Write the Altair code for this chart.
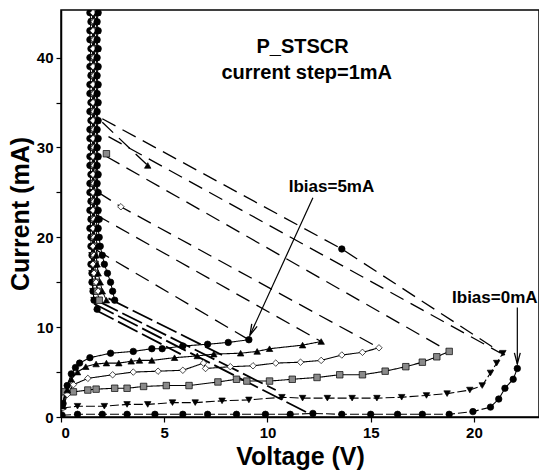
import altair as alt
import pandas as pd

FONT = "Liberation Sans"

series = ["0mA", "1mA", "2mA", "3mA", "4mA", "5mA"]

# low-current branches (Voltage V, Current mA)
v0 = [0.05, 0.8, 2.0, 3.2, 4.55, 5.9, 7.1, 8.5, 9.9, 11.1, 12.2, 13.6, 15.0, 16.3, 17.5, 18.8, 19.95, 20.8, 21.2, 21.5, 21.9, 22.1]
i0 = [0.2, 0.3, 0.3, 0.3, 0.3, 0.3, 0.3, 0.3, 0.3, 0.3, 0.4, 0.3, 0.3, 0.3, 0.3, 0.3, 0.6, 1.1, 2.0, 3.2, 4.2, 5.4]

v1 = [0.05, 0.8, 2.1, 3.2, 4.2, 5.4, 6.5, 7.8, 9.1, 10.7, 11.7, 12.9, 14.1, 15.3, 16.5, 17.7, 18.7, 19.8, 20.4, 20.8, 21.1, 21.4]
i1 = [1.0, 1.2, 1.2, 1.4, 1.4, 1.6, 1.6, 1.8, 1.9, 2.2, 2.1, 2.1, 2.1, 2.1, 2.2, 2.4, 2.6, 3.0, 3.5, 4.9, 6.0, 7.1]

v2 = [0.05, 0.2, 0.6, 1.3, 1.7, 2.6, 3.2, 4.0, 5.1, 6.2, 7.6, 8.5, 9.0, 10.1, 11.2, 12.4, 13.5, 14.6, 15.7, 16.7, 17.5, 18.2, 18.8]
i2 = [1.2, 2.8, 2.8, 3.0, 3.1, 3.2, 3.2, 3.4, 3.5, 3.5, 3.9, 4.2, 4.0, 4.0, 4.2, 4.4, 4.7, 4.7, 5.1, 5.6, 6.1, 6.7, 7.3]

v3 = [0.1, 0.3, 0.6, 1.3, 2.5, 3.5, 4.7, 5.9, 6.9, 7.0, 8.2, 9.3, 10.4, 11.6, 12.6, 13.6, 14.6, 15.4]
i3 = [1.0, 2.5, 3.6, 4.3, 4.7, 5.0, 5.1, 5.2, 6.0, 5.4, 5.6, 5.7, 6.0, 6.1, 6.3, 6.9, 7.2, 7.7]

v4 = [0.1, 0.3, 0.5, 0.8, 1.2, 1.7, 2.2, 2.8, 3.4, 3.8, 4.4, 5.5, 6.6, 7.4, 8.7, 9.5, 10.1, 11.7, 12.6]
i4 = [1.2, 3.0, 4.2, 5.0, 5.6, 5.9, 6.0, 6.0, 6.2, 6.3, 6.3, 6.6, 6.8, 7.0, 7.1, 7.3, 7.6, 8.0, 8.4]

v5 = [0.1, 0.3, 0.5, 0.7, 0.9, 1.4, 2.4, 3.5, 4.4, 4.9, 5.9, 7.1, 8.1, 9.1]
i5 = [1.5, 3.5, 4.8, 5.5, 6.0, 6.6, 7.1, 7.3, 7.6, 7.6, 7.9, 8.1, 8.3, 8.6]

# high-current (snapped-back) branch, current step = 1 mA
col_i = [12, 13, 14, 15, 16, 17, 18, 19, 20, 21,
         22, 23, 24, 25, 26, 27, 28, 29, 30, 31,
         32, 33, 34, 35, 36, 37, 38, 39, 40, 41,
         42, 43, 44, 45]
col_v0 = [1.75, 1.60, 1.55, 1.50, 1.50, 1.45, 1.50, 1.45, 1.45, 1.40,
          1.45, 1.40, 1.45, 1.40, 1.40, 1.45, 1.40, 1.40, 1.45, 1.40,
          1.40, 1.45, 1.40, 1.45, 1.40, 1.40, 1.45, 1.40, 1.40, 1.45,
          1.40, 1.40, 1.45, 1.40]
col_v1 = [None, 1.60, 1.55, 1.55, 1.50, 1.55, 1.50, 1.55, 1.50, 1.55,
          1.50, 1.55, 1.50, 1.55, 1.50, 1.55, 1.50, 1.55, 1.50, 1.55,
          1.50, 1.55, 1.50, 1.55, 1.50, 1.55, 1.50, 1.55, 1.50, 1.55,
          1.50, 1.55, 1.50, 1.55]
col_v2 = [None, 1.85, 1.75, 1.70, 1.65, 1.65, 1.60, 1.65, 1.60, 1.65,
          1.60, 1.65, 1.60, 1.65, 1.60, 1.70, 1.60, 1.65, 1.60, 1.65,
          1.60, 1.65, 1.60, 1.65, 1.60, 1.65, 1.60, 1.65, 1.60, 1.65,
          1.60, 1.65, 1.60, 1.65]
col_v3 = [None, None, 1.80, 1.70, 1.60, 1.55, 1.60, 1.55, 1.60, 1.55,
          1.60, 1.55, 1.60, 1.55, 1.60, 1.55, 1.60, 1.55, 1.60, 1.55,
          1.60, 1.55, 1.60, 1.55, 1.60, 1.55, 1.60, 1.55, 1.60, 1.55,
          1.60, 1.55, 1.60, 1.55]
col_v4 = [None, 2.20, 2.00, 1.90, 1.80, 1.75, 1.70, 1.75, 1.70, 1.75,
          1.70, 1.75, 1.70, 1.75, 1.70, 1.75, 1.70, 1.75, 1.70, 1.75,
          1.70, 1.75, 1.70, 1.75, 1.70, 1.75, 1.70, 1.75, 1.70, 1.75,
          1.70, 1.75, 1.70, 1.75]
col_v5 = [None, 2.60, 2.50, 2.40, 2.25, 2.10, 2.00, 1.90, 1.85, 1.80,
          1.85, 1.80, 1.75, 1.80, 1.75, 1.80, 1.75, 1.80, 1.75, 1.80,
          1.75, 1.80, 1.75, 1.80, 1.75, 1.80, 1.75, 1.80, 1.75, 1.80,
          1.75, 1.80, 1.75, 1.80]

# snapback transitions (dashed), each a list of (V, I)
snap_lines = [
    [(2.0, 32.8), (4.2, 28.0)],
    [(2.0, 33.2), (13.6, 18.7), (21.5, 6.9)],
    [(2.3, 31.2), (21.3, 7.1)],
    [(2.2, 29.0), (18.8, 7.3)],
    [(1.8, 25.0), (2.9, 23.4), (15.4, 7.7)],
    [(1.7, 22.5), (12.6, 8.4)],
    [(1.7, 18.6), (9.1, 8.6)],
]
thick_lines = [
    [(1.6, 12.6), (12.0, 0.4)],
    [(1.8, 12.9), (10.4, 3.0)],
    [(2.3, 13.2), (7.8, 6.9)],
    [(1.6, 12.0), (5.8, 7.0)],
]
# isolated markers lying on the transitions
extra_s = ["4mA", "5mA", "3mA", "2mA"]
extra_v = [4.2, 13.6, 2.9, 2.2]
extra_i = [28.0, 18.7, 23.4, 29.3]

# annotation arrows (V, I) start -> tip
arrow5 = [(12.2, 24.4), (9.15, 9.1)]
arrow0 = [(22.1, 12.2), (22.1, 5.9)]

# ---------------- tables ----------------
rows = []
for s, vs, is_ in zip(series, [v0, v1, v2, v3, v4, v5], [i0, i1, i2, i3, i4, i5]):
    for k, (v, i) in enumerate(zip(vs, is_)):
        rows.append({"s": s, "v": v, "i": i, "k": k})
curves = pd.DataFrame(rows)

crow = []
for s, cv in zip(series, [col_v0, col_v1, col_v2, col_v3, col_v4, col_v5]):
    for k, (v, i) in enumerate(zip(cv, col_i)):
        if v is not None:
            crow.append({"s": s, "v": v, "i": i, "k": k})
column = pd.DataFrame(crow)

def seg_table(lines):
    r = []
    for n, pts in enumerate(lines):
        for k, (v, i) in enumerate(pts):
            r.append({"g": n, "v": v, "i": i, "k": k})
    return pd.DataFrame(r)

snaps = seg_table(snap_lines)
thicks = seg_table(thick_lines)
arrows = seg_table([arrow5, arrow0])
extras = pd.DataFrame({"s": extra_s, "v": extra_v, "i": extra_i})
points = pd.concat([curves[["s", "v", "i"]], column[["s", "v", "i"]], extras], ignore_index=True)

xs = alt.Scale(domain=[0, 23.15], nice=False)
ys = alt.Scale(domain=[0, 45.3], nice=False)
X = alt.X("v:Q", scale=xs, axis=alt.Axis(values=[0, 5, 10, 15, 20], title="Voltage (V)",
                                         titlePadding=4))
Y = alt.Y("i:Q", scale=ys, axis=alt.Axis(values=[0, 5, 10, 15, 20, 25, 30, 35, 40],
                                         labelExpr="datum.value % 10 == 0 ? datum.label : ''",
                                         title="Current (mA)", titlePadding=3))
Xn = alt.X("v:Q", scale=xs)
Yn = alt.Y("i:Q", scale=ys)

shape_scale = alt.Scale(domain=series, range=["circle", "triangle-down", "square", "diamond", "triangle-up", "circle"])
fill_scale = alt.Scale(domain=series, range=["black", "black", "#8a8a8a", "white", "black", "black"])
size_scale = alt.Scale(domain=series, range=[42, 42, 34, 52, 42, 46])
dash_scale = alt.Scale(domain=series, range=[[9, 3], [9, 3], [1, 0], [1, 0], [1, 0], [1, 0]])

curve_lines = alt.Chart(curves).mark_line(color="black", strokeWidth=1.1, clip=True).encode(
    x=X, y=Y, detail="s:N", order="k:Q",
    strokeDash=alt.StrokeDash("s:N", scale=dash_scale, legend=None))

col_lines = alt.Chart(column).mark_line(color="black", strokeWidth=1.0, clip=True).encode(
    x=Xn, y=Yn, detail="s:N", order="k:Q")

snap_layer = alt.Chart(snaps).mark_line(color="black", strokeWidth=1.3, strokeDash=[15, 8], clip=True).encode(
    x=Xn, y=Yn, detail="g:N", order="k:Q")

thick_layer = alt.Chart(thicks).mark_line(color="black", strokeWidth=1.8, strokeDash=[22, 5], clip=True).encode(
    x=Xn, y=Yn, detail="g:N", order="k:Q")

marks = alt.Chart(points).mark_point(filled=True, stroke="black", strokeWidth=0.7, opacity=1, clip=True).encode(
    x=Xn, y=Yn,
    shape=alt.Shape("s:N", scale=shape_scale, legend=None),
    fill=alt.Fill("s:N", scale=fill_scale, legend=None),
    size=alt.Size("s:N", scale=size_scale, legend=None))

arrow_lines = alt.Chart(arrows).mark_line(color="black", strokeWidth=1.2, clip=True).encode(
    x=Xn, y=Yn, detail="g:N", order="k:Q")

one = alt.Data(values=[{"a": 1}])
head_path = "M-0.45,-1.7L0,0L0.45,-1.7"
head5 = alt.Chart(one).mark_point(shape=head_path, filled=False, stroke="black", strokeWidth=1.3,
                                  size=170, angle=24, opacity=1).encode(
    x=alt.datum(arrow5[1][0]), y=alt.datum(arrow5[1][1]))
head0 = alt.Chart(one).mark_point(shape=head_path, filled=False, stroke="black", strokeWidth=1.3,
                                  size=170, opacity=1).encode(
    x=alt.datum(arrow0[1][0]), y=alt.datum(arrow0[1][1]))

def label(txt, v, i, size, align="center"):
    return alt.Chart(one).mark_text(text=txt, font=FONT, fontSize=size, fontWeight="bold",
                                    align=align, baseline="middle", color="black").encode(
        x=alt.datum(v), y=alt.datum(i))

t1 = label("P_STSCR", 11.7, 41.2, 20)
t2 = label("current step=1mA", 11.9, 38.3, 20)
t3 = label("Ibias=5mA", 13.1, 25.6, 17)
t4 = label("Ibias=0mA", 23.08, 13.3, 17, align="right")

chart = alt.layer(
    curve_lines, col_lines, snap_layer, thick_layer, marks, arrow_lines, head5, head0, t1, t2, t3, t4
).properties(
    width=478, height=407,
    padding={"left": 61, "top": 10, "right": 0, "bottom": 53},
    autosize=alt.AutoSizeParams(type="none"),
    background="white",
).configure_view(
    stroke="black", strokeWidth=1.5
).configure_axis(
    grid=False, domainColor="black", domainWidth=1.5, tickColor="black", tickWidth=1.2, tickSize=5,
    labelFont=FONT, labelFontSize=15, labelFontWeight="bold", labelColor="black", labelPadding=3,
    titleFont=FONT, titleFontSize=25, titleFontWeight="bold", titleColor="black"
)

chart.save("out.html", embed_options={"renderer": "svg", "actions": False})
